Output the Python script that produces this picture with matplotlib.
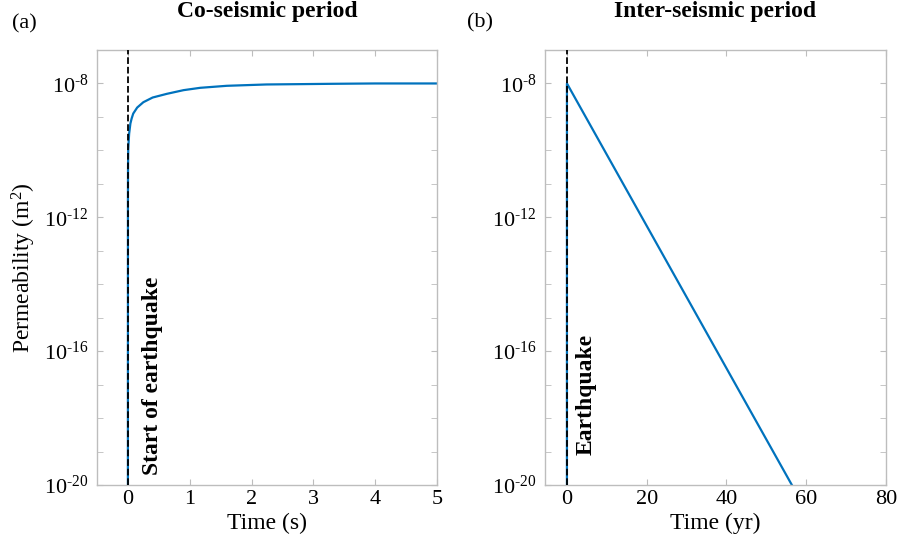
import numpy as np
import matplotlib
matplotlib.use("Agg")
import matplotlib.pyplot as plt
from matplotlib.ticker import FixedLocator, FuncFormatter

plt.rcParams["font.family"] = ["Liberation Serif", "DejaVu Serif"]
plt.rcParams["mathtext.fontset"] = "custom"
plt.rcParams["mathtext.rm"] = "Liberation Serif"
plt.rcParams["mathtext.it"] = "Liberation Serif:italic"
plt.rcParams["mathtext.bf"] = "Liberation Serif:bold"

# co-seismic permeability (time in s, log10 k in m^2)
co_time = [0.0, 0.0005, 0.002, 0.005, 0.01, 0.02, 0.04, 0.06, 0.086, 0.15,
           0.25, 0.4, 0.63, 0.9, 1.17, 1.6, 2.24, 2.8, 3.32, 4.0, 5.0]
co_logk = [-20.0, -11.5, -10.5, -10.0, -9.8, -9.5, -9.2, -9.05, -8.9, -8.72,
           -8.56, -8.42, -8.31, -8.2, -8.13, -8.07, -8.03, -8.02, -8.01, -8.0, -8.0]

# inter-seismic permeability (time in yr, log10 k in m^2)
inter_time = [0.0, 0.0, 56.4]
inter_logk = [-20.0, -8.0, -20.0]

blue = "#0072BD"
gray = "#bdbdbd"
fs = 16
fl = 17

fig = plt.figure(figsize=(8.99, 5.41), dpi=100)
ax1 = fig.add_axes([97 / 899, 1 - 485 / 541, 340 / 899, 435 / 541])
ax2 = fig.add_axes([545 / 899, 1 - 485 / 541, 341 / 899, 435 / 541])


def sup_fmt(v, pos):
    return r"$10^{\text{-%d}}$" % abs(int(round(np.log10(v))))


for ax in (ax1, ax2):
    ax.set_yscale("log")
    ax.set_ylim(1e-20, 1e-7)
    ax.yaxis.set_major_locator(FixedLocator([1e-20, 1e-16, 1e-12, 1e-8]))
    ax.yaxis.set_minor_locator(FixedLocator([10.0 ** e for e in range(-20, -6)]))
    ax.yaxis.set_major_formatter(FuncFormatter(sup_fmt))
    ax.yaxis.set_minor_formatter(FuncFormatter(lambda v, p: ""))
    for s in ax.spines.values():
        s.set_color(gray)
        s.set_linewidth(1.0)
    ax.tick_params(which="both", direction="in", top=True, right=True,
                   color=gray, labelsize=fs, labelcolor="black")
    ax.tick_params(which="major", length=4)
    ax.tick_params(which="minor", length=4)
    ax.tick_params(axis="y", which="major", pad=6)
    ax.axvline(0, color="black", ls="--", lw=1.3, zorder=3)

ax1.plot(co_time, [10.0 ** v for v in co_logk], color=blue, lw=1.6)
ax1.set_xlim(-0.5, 5)
ax1.set_xticks([0, 1, 2, 3, 4, 5])
ax1.set_xlabel("Time (s)", fontsize=fl, labelpad=3)
ax1.set_ylabel("Permeability (m$^2$)", fontsize=fl, labelpad=4)
ax1.set_title("Co-seismic period", fontsize=fl, fontweight="bold", pad=24)
ax1.text(0.22, 2e-20, "Start of earthquake", rotation=90, fontsize=fl,
         fontweight="bold", ha="left", va="bottom")

ax2.plot(inter_time, [10.0 ** v for v in inter_logk], color=blue, lw=1.6)
ax2.set_xlim(-5.5, 80)
ax2.set_xticks([0, 20, 40, 60, 80])
ax2.set_xlabel("Time (yr)", fontsize=fl, labelpad=3)
ax2.set_title("Inter-seismic period", fontsize=fl, fontweight="bold", pad=24)
ax2.text(2.3, 8e-20, "Earthquake", rotation=90, fontsize=fl,
         fontweight="bold", ha="left", va="bottom")

fig.text(12 / 899, 1 - 24 / 541, "(a)", fontsize=fs, va="center", ha="left")
fig.text(467 / 899, 1 - 23 / 541, "(b)", fontsize=fs, va="center", ha="left")

fig.savefig("out.png", dpi=100)
